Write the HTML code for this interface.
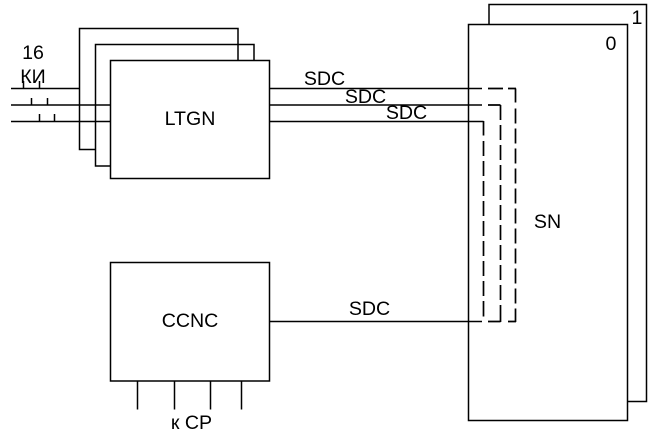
<!DOCTYPE html>
<html>
<head>
<meta charset="utf-8">
<style>
html,body{margin:0;padding:0;background:#fff;width:653px;height:441px;overflow:hidden}
svg{display:block}
text{font-family:"Liberation Sans",sans-serif;font-size:19.6px;fill:#000}
</style>
</head>
<body>
<svg width="653" height="441" viewBox="0 0 653 441" xmlns="http://www.w3.org/2000/svg">
<rect width="653" height="441" fill="#fff"/>
<g fill="none" stroke="#000" stroke-width="1.5">
<!-- LTGN stack -->
<path d="M238 60V28.5H79.5V149.5H95"/>
<path d="M254 60V44.5H95.5V166H110"/>
<rect x="110.5" y="60.5" width="159" height="118"/>
<!-- input lines -->
<path d="M11 88.5H79M11 105H110M11 121.5H110"/>
<path d="M23.5 81V88M39.5 81V88M31.5 98V105M47.5 98V105M39.5 114V121M54.5 114V121"/>
<!-- SN -->
<path d="M489 24V4.5H646.5V401.5H628"/>
<rect x="468.5" y="24.5" width="159" height="396"/>
<!-- SDC buses -->
<path d="M269 88.5H482M269 105H482M269 121.5H483.5M269 321.5H482"/>
<g stroke-width="1.7">
<path d="M488 88.5H503M508 88.5H516M488 105H500.5M488 321.5H500.5M508 321.5H516"/>
<path d="M515.5 88.5V102.5M515.5 108.5V123.5M515.5 128.5V143.5M515.5 148.5V163.5M515.5 168.5V183.5M515.5 188.5V203.5M515.5 208.5V223.5M515.5 228.5V243.5M515.5 248.5V263.5M515.5 268.5V283.5M515.5 288.5V303.5M515.5 308.5V322"/>
<path d="M500.5 105V120M500.5 125V140M500.5 145V160M500.5 165V180M500.5 185V200M500.5 205V220M500.5 225V240M500.5 245V260M500.5 265V280M500.5 285V300M500.5 305V322"/>
<path d="M483.5 121V135.5M483.5 141V156M483.5 161V176M483.5 181V196M483.5 201V216M483.5 221V236M483.5 241V256M483.5 261V276M483.5 281V296M483.5 301V316.5"/>
</g>
<!-- CCNC -->
<rect x="110.5" y="262.5" width="159" height="118.5"/>
<path d="M137.5 381V409.5M174.5 381V409.5M210.5 381V409.5M241.5 381V409.5"/>
</g>
<g text-anchor="middle">
<text x="33" y="59">16</text>
<text x="33" y="83">КИ</text>
<text x="190" y="125">LTGN</text>
<text x="190" y="327">CCNC</text>
<text x="324.5" y="85">SDC</text>
<text x="365.5" y="103">SDC</text>
<text x="406.5" y="119">SDC</text>
<text x="369.5" y="315">SDC</text>
<text x="547.5" y="228">SN</text>
<text x="611" y="50">0</text>
<text x="637" y="24">1</text>
<text x="191.5" y="429">к СР</text>
</g>
</svg>
</body>
</html>
